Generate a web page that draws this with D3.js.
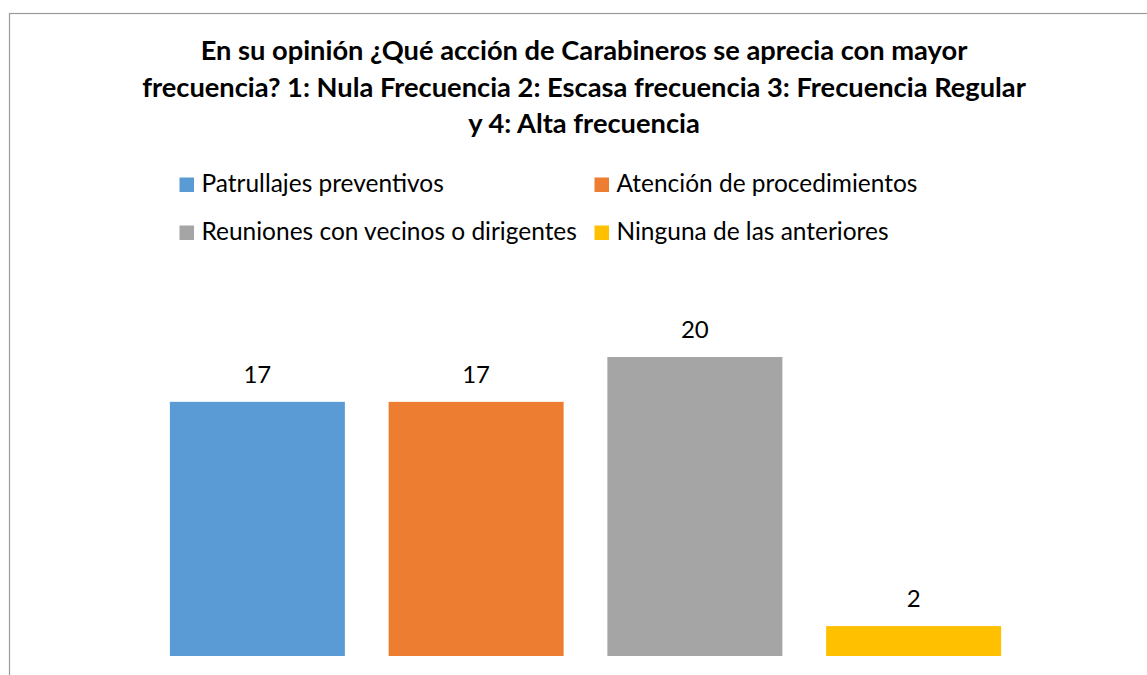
<!DOCTYPE html>
<html>
<head>
<meta charset="utf-8">
<script src="https://cdn.jsdelivr.net/npm/d3@7"></script>
<style>
  html, body { margin: 0; padding: 0; background: #fff; }
  svg { display: block; }
</style>
</head>
<body>
<svg id="chart" width="1147" height="675"></svg>
<script>
const titleLines = [
  "En su opinión ¿Qué acción de Carabineros se aprecia con mayor",
  "frecuencia? 1: Nula Frecuencia 2: Escasa frecuencia 3: Frecuencia Regular",
  "y 4: Alta frecuencia"
];
const categories = ["Patrullajes preventivos", "Atención de procedimientos", "Reuniones con vecinos o dirigentes", "Ninguna de las anteriores"];
const values = [17, 17, 20, 2];
const colors = ["#5B9BD5", "#ED7D31", "#A5A5A5", "#FFC000"];

const FONT = "Lato, 'Open Sans', 'Liberation Sans', sans-serif";
const svg = d3.select("#chart");

// chart border (cut off at right/bottom)
svg.append("rect")
  .attr("x", 9.5).attr("y", 13.5)
  .attr("width", 1300).attr("height", 800)
  .attr("fill", "none").attr("stroke", "#9a9a9a").attr("stroke-width", 1.2);

function fitSize(text, weight, target, base) {
  const t = svg.append("text").attr("font-family", FONT).attr("font-weight", weight)
    .attr("font-size", base).text(text);
  const w = t.node().getComputedTextLength();
  t.remove();
  return base * target / w;
}

// Title
const titleSize = fitSize(titleLines[1], "bold", 884, 24);
const titleBaselines = [59.5, 96.5, 132.5];
svg.append("g").selectAll("text").data(titleLines).join("text")
  .attr("x", 584)
  .attr("y", (d, i) => titleBaselines[i])
  .attr("text-anchor", "middle")
  .attr("font-family", FONT).attr("font-weight", "bold")
  .attr("font-size", titleSize)
  .attr("fill", "#000")
  .text(d => d);

// Legend
const legSize = (fitSize(categories[2], "normal", 377, 22) + fitSize(categories[3], "normal", 271, 22)) / 2;
const legCols = [179.5, 594.5];
const legRows = [177.5, 225.5];
const leg = svg.append("g").selectAll("g").data(categories).join("g")
  .attr("transform", (d, i) => `translate(${legCols[i % 2]},${legRows[Math.floor(i / 2)]})`);
leg.append("rect").attr("width", 14.5).attr("height", 14.5).attr("fill", (d, i) => colors[i]);
leg.append("text").attr("x", 22).attr("y", 14.5)
  .attr("font-family", FONT).attr("font-size", legSize).attr("fill", "#000")
  .text(d => d);

// Scales
const x = d3.scaleBand().domain(categories).range([148, 1023]).paddingInner(0.2).paddingOuter(0.1);
const y = d3.scaleLinear().domain([0, 25]).range([656, 282.25]);

// Bars
svg.append("g").selectAll("rect").data(values).join("rect")
  .attr("x", (d, i) => x(categories[i]))
  .attr("y", d => y(d))
  .attr("width", x.bandwidth())
  .attr("height", d => y(0) - y(d))
  .attr("fill", (d, i) => colors[i]);

// Data labels
svg.append("g").selectAll("text").data(values).join("text")
  .attr("x", (d, i) => x(categories[i]) + x.bandwidth() / 2)
  .attr("y", d => y(d) - 18.7)
  .attr("text-anchor", "middle")
  .attr("font-family", FONT).attr("font-size", 24).attr("fill", "#000")
  .text(d => d);
</script>
</body>
</html>
